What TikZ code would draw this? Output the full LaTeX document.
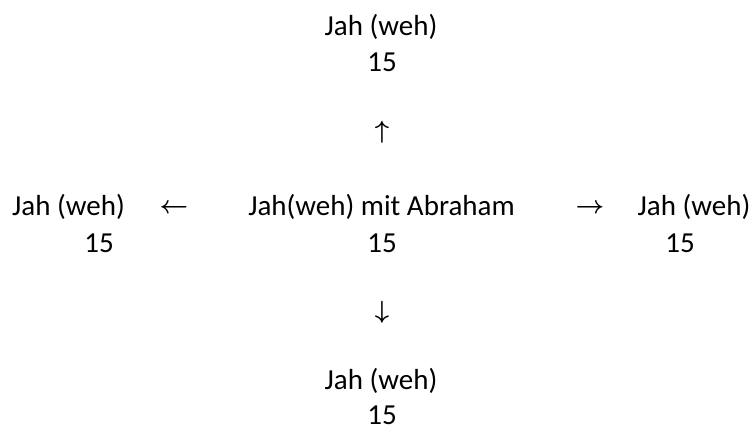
\documentclass[tikz,border=0pt]{standalone}
\usepackage{fontspec}
\setmainfont{Carlito}
\begin{document}
\begin{tikzpicture}[x=1pt,y=-1pt,
  lbl/.style={anchor=base,inner sep=0pt,font=\fontsize{29}{33}\selectfont},
  arr/.style={anchor=center,inner sep=0pt,font=\fontsize{29}{33}\selectfont\boldmath}]
\useasboundingbox (0,0) rectangle (755,432);
% top
\node[lbl] (t1) at (381,35) {Jah (weh)};
\node[lbl] (t2) at (382,71) {15};
\node[arr] (au) at (382,132) {$\uparrow$};
% middle
\node[lbl] (m1) at (381.5,215) {Jah(weh) mit Abraham};
\node[lbl] (m2) at (382,252) {15};
\node[lbl] (l1) at (68.5,215) {Jah (weh)};
\node[lbl] (l2) at (99,252) {15};
\node[arr] (al) at (174,209) {$\leftarrow$};
\node[arr] (ar) at (590,209) {$\rightarrow$};
\node[lbl] (r1) at (694,215) {Jah (weh)};
\node[lbl] (r2) at (680,252) {15};
% bottom
\node[arr] (ad) at (382,312) {$\downarrow$};
\node[lbl] (b1) at (381,389) {Jah (weh)};
\node[lbl] (b2) at (382,424) {15};
\end{tikzpicture}
\end{document}
